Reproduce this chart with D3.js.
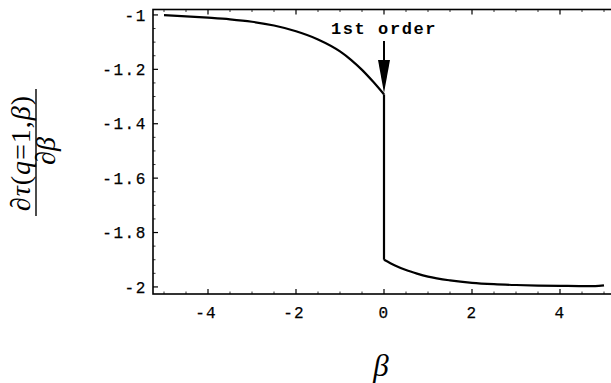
<!DOCTYPE html>
<html>
<head>
<meta charset="utf-8">
<script src="https://cdn.jsdelivr.net/npm/d3@7"></script>
<style>
  html, body { margin: 0; padding: 0; background: #fff; }
  svg { display: block; }
</style>
</head>
<body>
<svg id="chart" width="611" height="383"></svg>
<script>
// Derivative of tau(q=1, beta) with respect to beta: smooth branch for beta < 0,
// first-order jump at beta = 0, smooth branch for beta > 0.
const betaLeft  = [-5, -4.5, -4, -3.5, -3, -2.5, -2, -1.5, -1, -0.75, -0.5, -0.25, 0];
const valueLeft = [-1.001, -1.005, -1.010, -1.016, -1.025, -1.039, -1.060, -1.090, -1.134, -1.165, -1.202, -1.245, -1.292];

const betaRight  = [0, 0.25, 0.5, 0.75, 1, 1.5, 2, 2.5, 3, 3.5, 4, 4.5, 4.8, 5];
const valueRight = [-1.9, -1.921, -1.938, -1.951, -1.962, -1.976, -1.985, -1.990, -1.993, -1.995, -1.996, -1.997, -1.997, -1.994];

const xTicks = [-4, -2, 0, 2, 4];
const yTicks = [-1, -1.2, -1.4, -1.6, -1.8, -2];
const yTickLabels = ["-1", "-1.2", "-1.4", "-1.6", "-1.8", "-2"];

const annotation = { text: "1st order", beta: 0 };

const svg = d3.select("#chart");

const frame = { left: 153, right: 615, top: 9.5, bottom: 294 };
const x = d3.scaleLinear().domain([-5.25, 5.25]).range([frame.left, frame.right]);
const y = d3.scaleLinear().domain([-2.026, -0.98]).range([frame.bottom, frame.top]);

// Frame box
svg.append("rect")
  .attr("x", frame.left).attr("y", frame.top)
  .attr("width", frame.right - frame.left).attr("height", frame.bottom - frame.top)
  .attr("fill", "none").attr("stroke", "#000").attr("stroke-width", 1.6);

// Inward ticks on all four sides
const tickG = svg.append("g").attr("stroke", "#000");
const xMinor = d3.range(-5, 5.01, 0.5).filter(v => !xTicks.includes(v));
const yMinor = d3.range(-2, -0.99, 0.05).map(v => +v.toFixed(2)).filter(v => !yTicks.includes(v));

xTicks.forEach(v => {
  tickG.append("line").attr("x1", x(v)).attr("x2", x(v)).attr("y1", frame.bottom).attr("y2", frame.bottom - 5).attr("stroke-width", 1.2);
  tickG.append("line").attr("x1", x(v)).attr("x2", x(v)).attr("y1", frame.top).attr("y2", frame.top + 5).attr("stroke-width", 1.2);
});
xMinor.forEach(v => {
  tickG.append("line").attr("x1", x(v)).attr("x2", x(v)).attr("y1", frame.bottom).attr("y2", frame.bottom - 2.5).attr("stroke-width", 0.8);
  tickG.append("line").attr("x1", x(v)).attr("x2", x(v)).attr("y1", frame.top).attr("y2", frame.top + 2.5).attr("stroke-width", 0.8);
});
yTicks.forEach(v => {
  tickG.append("line").attr("x1", frame.left).attr("x2", frame.left + 5).attr("y1", y(v)).attr("y2", y(v)).attr("stroke-width", 1.2);
});
yMinor.forEach(v => {
  tickG.append("line").attr("x1", frame.left).attr("x2", frame.left + 2.5).attr("y1", y(v)).attr("y2", y(v)).attr("stroke-width", 0.8);
});

// Tick labels
const monoFont = "'Liberation Mono', 'Courier New', monospace";
svg.append("g").selectAll("text").data(yTicks).join("text")
  .attr("x", 147).attr("y", d => y(d)).attr("dy", "0.36em")
  .attr("text-anchor", "end")
  .attr("font-family", monoFont).attr("font-size", 16).attr("letter-spacing", 1.6)
  .attr("fill", "#000").attr("stroke", "#000").attr("stroke-width", 0.25)
  .text((d, i) => yTickLabels[i]);

svg.append("g").selectAll("text").data(xTicks).join("text")
  .attr("x", d => x(d) + (d < 0 ? -2 : 0)).attr("y", 318)
  .attr("text-anchor", "middle")
  .attr("font-family", monoFont).attr("font-size", 16).attr("letter-spacing", 1.2)
  .attr("fill", "#000").attr("stroke", "#000").attr("stroke-width", 0.25)
  .text(d => d < 0 ? "-" + Math.abs(d) : String(d));

// Curve
const pts = (bs, vs) => bs.map((b, i) => [b, vs[i]]);
const line = d3.line().x(d => x(d[0])).y(d => y(d[1])).curve(d3.curveMonotoneX);
const curveG = svg.append("g").attr("fill", "none").attr("stroke", "#000").attr("stroke-width", 2.2)
  .attr("stroke-linejoin", "round");
curveG.append("path").attr("d", line(pts(betaLeft, valueLeft)));
curveG.append("path").attr("d", d3.line().x(d => x(d[0])).y(d => y(d[1]))([
  [betaLeft[betaLeft.length - 1], valueLeft[valueLeft.length - 1]],
  [betaRight[0], valueRight[0]]
]));
curveG.append("path").attr("d", line(pts(betaRight, valueRight)));

// Annotation with arrow pointing at the transition
const ax = x(annotation.beta);
svg.append("text")
  .attr("x", ax).attr("y", 34)
  .attr("text-anchor", "middle")
  .attr("font-family", monoFont).attr("font-weight", "bold").attr("font-size", 17).attr("letter-spacing", 1.6)
  .attr("fill", "#000")
  .text(annotation.text);
svg.append("line")
  .attr("x1", ax).attr("x2", ax).attr("y1", 41).attr("y2", 62)
  .attr("stroke", "#000").attr("stroke-width", 2);
svg.append("path")
  .attr("d", d3.line()([[ax - 6, 60], [ax + 6, 60], [ax, 93]]) + "Z")
  .attr("fill", "#000");

// Axis titles
const serif = "'Liberation Serif', 'Times New Roman', serif";
svg.append("text")
  .attr("x", 381).attr("y", 376)
  .attr("text-anchor", "middle")
  .attr("font-family", serif)
  .attr("font-style", "italic").attr("font-size", 31)
  .attr("fill", "#000")
  .text("β");

const yl = svg.append("g").attr("transform", "translate(36,153) rotate(-90)");
const num = yl.append("text")
  .attr("x", 0).attr("y", -6)
  .attr("text-anchor", "middle")
  .attr("font-family", serif).attr("font-size", 28).attr("letter-spacing", 1)
  .attr("fill", "#000");
[["∂", "italic"], ["τ", "italic"], ["(", "normal"], ["q", "italic"], ["=1,", "normal"], ["β", "italic"], [")", "normal"]]
  .forEach(([t, s]) => num.append("tspan").attr("font-style", s).text(t));
yl.append("line")
  .attr("x1", -63).attr("x2", 64).attr("y1", 0).attr("y2", 0)
  .attr("stroke", "#000").attr("stroke-width", 1.4);
const den = yl.append("text")
  .attr("x", 2).attr("y", 19)
  .attr("text-anchor", "middle")
  .attr("font-family", serif).attr("font-size", 28)
  .attr("fill", "#000");
den.append("tspan").attr("font-style", "italic").text("∂");
den.append("tspan").attr("font-style", "italic").text("β");
</script>
</body>
</html>
